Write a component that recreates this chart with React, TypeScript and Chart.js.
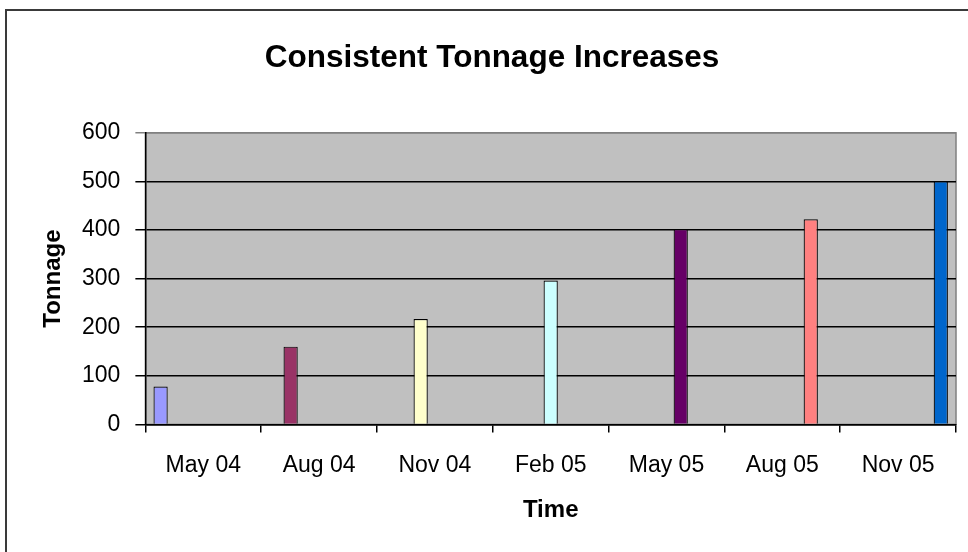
import React, { useEffect, useRef } from "react";
import { Chart, registerables } from "chart.js";

Chart.register(...registerables);

const categories = ["May 04", "Aug 04", "Nov 04", "Feb 05", "May 05", "Aug 05", "Nov 05"];
const tonnage = [78, 160, 217, 296, 402, 422, 500];
const seriesColors = ["#9999FF", "#993366", "#FFFFCC", "#CCFFFF", "#660066", "#FF8080", "#0066CC"];
const yTicks = [0, 100, 200, 300, 400, 500, 600];

const FONT = "'Liberation Sans', Arial, sans-serif";

const plotBg = {
  id: "plotBg",
  beforeDraw(chart: any) {
    const { ctx, chartArea: a } = chart;
    ctx.save();
    ctx.fillStyle = "#C0C0C0";
    ctx.fillRect(a.left, a.top, a.right - a.left, a.bottom - a.top);
    ctx.strokeStyle = "#808080";
    ctx.lineWidth = 1.5;
    ctx.strokeRect(a.left, a.top, a.right - a.left, a.bottom - a.top);
    ctx.restore();
  },
};

export default function App() {
  const ref = useRef<HTMLCanvasElement>(null);
  useEffect(() => {
    const datasets = categories.map((c, i) => ({
      label: c,
      data: categories.map((_, j) => (j === i ? tonnage[i] : null)),
      backgroundColor: seriesColors[i],
      borderColor: "#000000",
      borderWidth: 1.2,
      categoryPercentage: 0.86,
      barPercentage: 1.0,
    }));
    const chart = new Chart(ref.current!, {
      type: "bar",
      data: { labels: categories, datasets },
      plugins: [plotBg],
      options: {
        animation: false,
        responsive: false,
        maintainAspectRatio: false,
        layout: { padding: { left: 28, right: 12, top: 0, bottom: 30 } },
        plugins: {
          legend: { display: false },
          tooltip: { enabled: false },
          title: {
            display: true,
            text: "Consistent Tonnage Increases",
            color: "#000",
            font: { family: FONT, size: 31.5, weight: "bold", lineHeight: 1.2 },
            padding: { top: 39, bottom: 56 },
          },
        },
        scales: {
          x: {
            grid: {
              offset: true,
              drawOnChartArea: false,
              drawTicks: true,
              tickLength: 8,
              color: "#000",
              lineWidth: 1.5,
            },
            border: { color: "#000", width: 1.5 },
            ticks: {
              color: "#000",
              font: { family: FONT, size: 23, lineHeight: 1.2 },
              padding: 19,
              maxRotation: 0,
              autoSkip: false,
            },
            title: {
              display: true,
              text: "Time",
              color: "#000",
              font: { family: FONT, size: 24, weight: "bold", lineHeight: 1.0 },
              padding: { top: 0, bottom: 0 },
            },
          },
          y: {
            min: 0,
            max: 600,
            afterBuildTicks(scale: any) {
              scale.ticks = yTicks.map((v) => ({ value: v }));
            },
            grid: {
              drawTicks: true,
              tickLength: 10,
              color: (ctx: any) => (ctx.tick && ctx.tick.value === 600 ? "#808080" : "#000"),
              lineWidth: 1.5,
            },
            border: { color: "#000", width: 1.5 },
            ticks: {
              color: "#000",
              font: { family: FONT, size: 23, lineHeight: 1.2 },
              padding: 15,
            },
            title: {
              display: true,
              text: "Tonnage",
              color: "#000",
              font: { family: FONT, size: 24, weight: "bold", lineHeight: 1.0 },
              padding: { top: 13, bottom: 2 },
            },
          },
        },
      },
    });
    return () => chart.destroy();
  }, []);
  return (
    <div style={{ position: "fixed", left: 0, top: 0, width: 968, height: 552, background: "#fff", overflow: "hidden" }}>
      <canvas ref={ref} width={968} height={552} style={{ display: "block" }} />
      <div
        style={{
          position: "absolute",
          left: 5,
          top: 9,
          width: 1200,
          height: 1200,
          border: "2px solid #3a3a3a",
          pointerEvents: "none",
        }}
      />
    </div>
  );
}
